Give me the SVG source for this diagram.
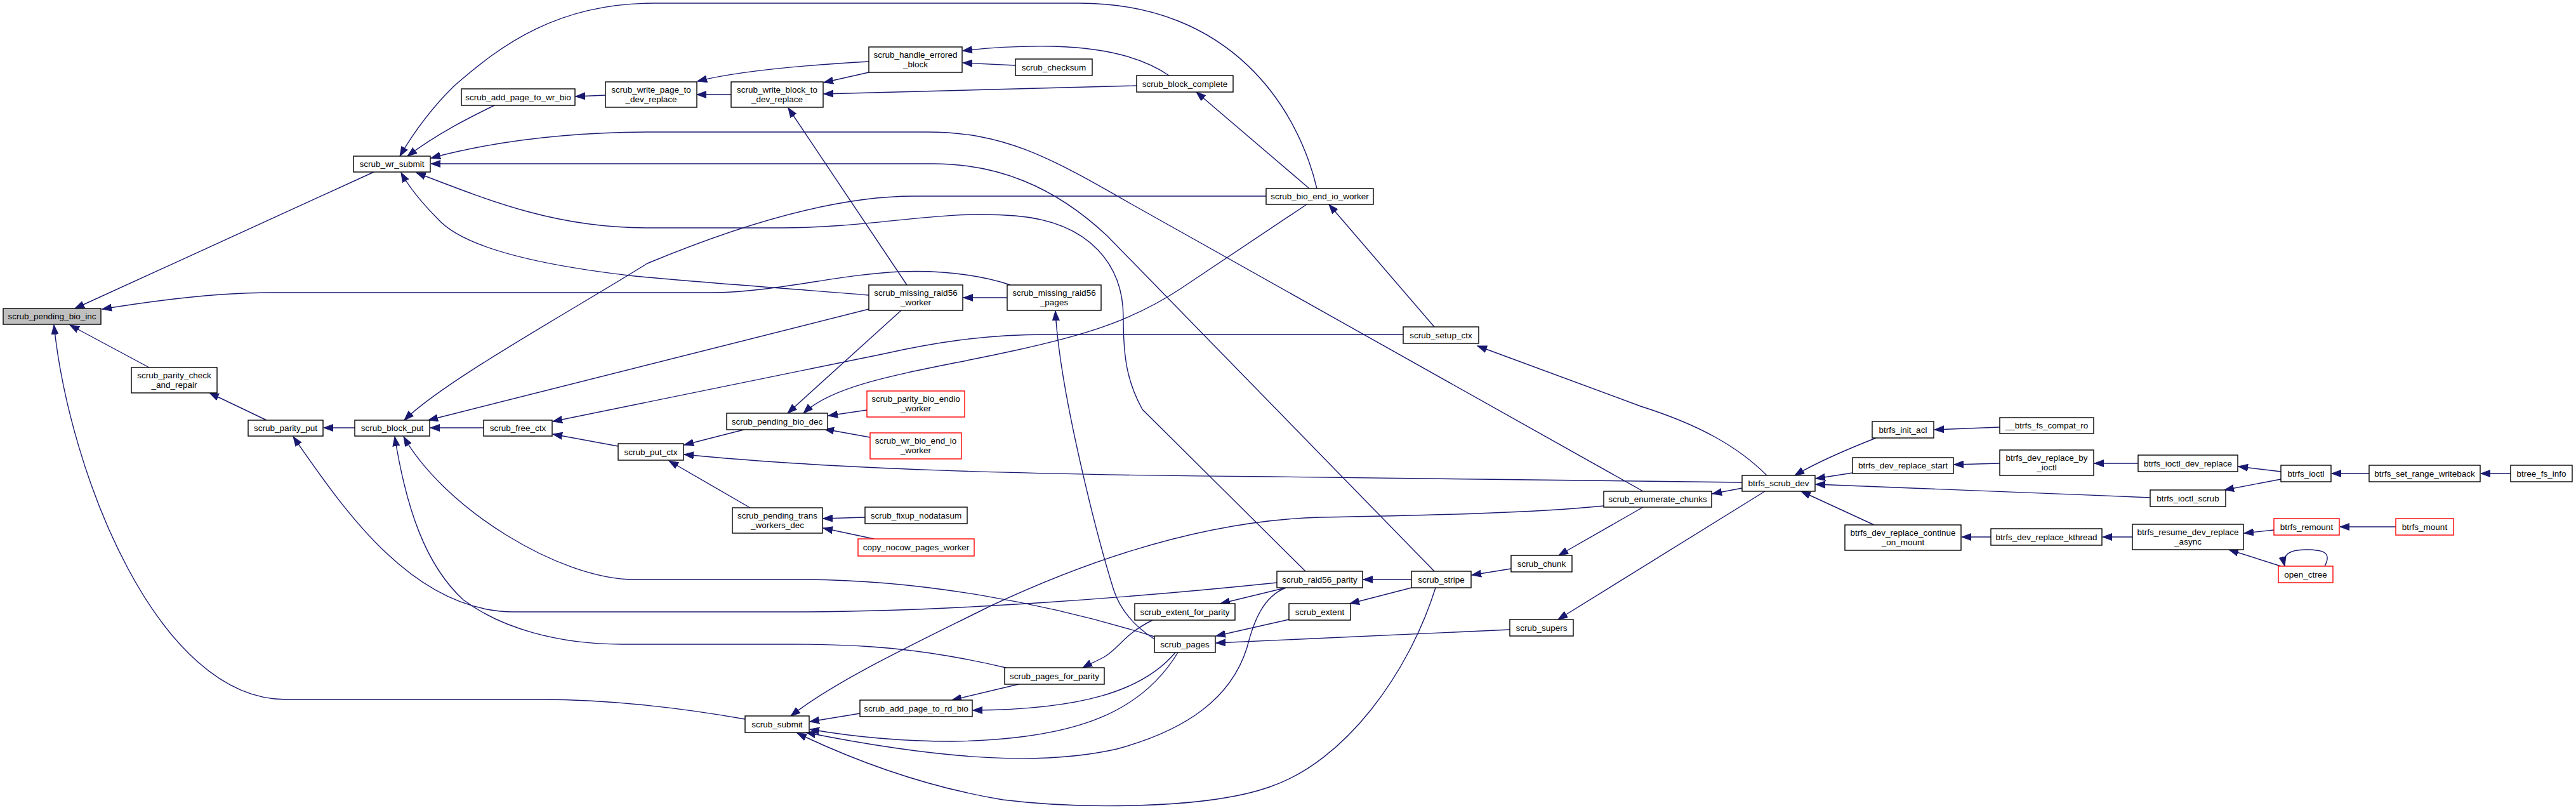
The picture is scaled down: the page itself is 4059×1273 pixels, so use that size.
<svg xmlns="http://www.w3.org/2000/svg" width="4059" height="1273" viewBox="0 0 4059 1273">
<style>
.n rect{fill:#fff;stroke:#000;stroke-width:1.4}
.n.r rect{stroke:#f00}
.n.root rect{fill:#bfbfbf}
.n text{font-family:"Liberation Sans",Arial,sans-serif;font-size:13.5px;fill:#000;text-anchor:middle}
#edges path{fill:none;stroke:#191970;stroke-width:1.4;marker-end:url(#ah)}
</style>
<defs>
<marker id="ah" markerUnits="userSpaceOnUse" markerWidth="16" markerHeight="12" refX="15" refY="6" orient="auto">
<path d="M0,0.5 L15,6 L0,11.5 z" fill="#191970" stroke="#191970" stroke-width="1"/>
</marker>
</defs>
<rect width="4059" height="1273" fill="#fff"/>
<g id="edges">
<path d="M589,271 L118,486"/>
<path d="M1592,449 C1560,438 1500,425 1420,428 C1320,432 1220,461 1120,461 L430,461 C340,461 240,474 161,487"/>
<path d="M235,579 L110,512"/>
<path d="M1174,1133 C1100,1120 980,1102 850,1102 L450,1102 C250,1102 110,750 85,512"/>
<path d="M2075,297 C2045,170 1940,5 1700,5 L1030,5 C880,5 790,70 716,135 C680,170 650,212 630,246"/>
<path d="M779,166 C740,185 690,210 642,246"/>
<path d="M2589,774 L1780,320 C1650,245 1580,208 1460,208 L1030,208 C900,208 780,222 679,249"/>
<path d="M2260,900 L1745,372 C1660,292 1570,258 1470,258 L679,258"/>
<path d="M2057,900 L1800,645 C1775,600 1770,560 1770,500 C1770,420 1720,350 1600,340 C1480,330 1380,359 1230,359 L1020,359 C880,359 780,320 656,272"/>
<path d="M1369,465 C1250,455 1100,445 1000,435 C850,418 730,390 690,345 C660,315 642,290 632,272"/>
<path d="M1995,309 L1440,309 C1300,309 1140,365 1020,415 C900,490 700,600 637,662"/>
<path d="M1369,487 L675,662"/>
<path d="M2211,527 L1650,527 C1550,527 1470,540 1390,558 L871,664"/>
<path d="M2059,322 L1860,455 C1780,508 1700,530 1600,552 C1450,585 1320,600 1266,651"/>
<path d="M1420,489 L1241,651"/>
<path d="M1429,449 L1242,170"/>
<path d="M1152,149 L1098,149"/>
<path d="M954,150 L907,152"/>
<path d="M1369,97 C1280,102 1170,110 1099,128"/>
<path d="M1369,114 L1298,130"/>
<path d="M1791,135 L1298,148"/>
<path d="M1842,119 C1800,90 1740,75 1660,73 C1600,72 1550,76 1517,80"/>
<path d="M1600,103 L1517,99"/>
<path d="M2063,297 L1885,145"/>
<path d="M1587,469 L1518,469"/>
<path d="M2260,515 L2094,322"/>
<path d="M2784,749 C2740,705 2680,670 2585,640 L2328,545"/>
<path d="M1172,677 L1078,701"/>
<path d="M2745,760 L2000,751 C1600,748 1300,738 1078,716"/>
<path d="M1182,800 L1054,726"/>
<path d="M974,703 L871,684"/>
<path d="M762,674 L678,674"/>
<path d="M559,674 L510,674"/>
<path d="M420,662 L330,619"/>
<path d="M1366,646 L1305,655"/>
<path d="M1371,689 L1299,676"/>
<path d="M1363,815 L1297,817"/>
<path d="M1377,849 L1297,832"/>
<path d="M2012,918 C1800,940 1500,964 1250,964 L810,964 C650,964 540,800 462,688"/>
<path d="M1585,1052 C1450,1020 1350,1015 1250,1015 L980,1015 C880,1015 790,990 730,945 C670,890 640,800 622,688"/>
<path d="M1819,1003 C1650,950 1450,913 1260,913 L1000,913 C880,913 700,800 636,688"/>
<path d="M1819,1007 C1785,985 1765,960 1755,930 C1730,850 1670,620 1663,490"/>
<path d="M2527,797 C2420,808 2250,812 2080,815 C1900,820 1720,880 1560,955 C1450,1010 1320,1070 1246,1128"/>
<path d="M2026,926 C1990,940 1975,980 1965,1020 C1940,1100 1870,1150 1760,1180 C1650,1205 1500,1200 1270,1154"/>
<path d="M2262,926 C2220,1060 2120,1200 2000,1240 C1900,1275 1700,1275 1580,1260 C1460,1240 1350,1200 1256,1155"/>
<path d="M1355,1124 L1276,1137"/>
<path d="M1605,1078 L1500,1103"/>
<path d="M1852,1028 C1800,1090 1700,1118 1533,1119"/>
<path d="M1856,1028 C1800,1120 1700,1165 1500,1168 C1420,1168 1340,1160 1276,1149"/>
<path d="M1816,977 C1770,1000 1765,1020 1740,1035 C1725,1043 1715,1047 1706,1052"/>
<path d="M2026,926 L1923,951"/>
<path d="M2031,976 L1916,1002"/>
<path d="M2379,992 L1916,1013"/>
<path d="M2224,913 L2148,913"/>
<path d="M2224,926 L2127,951"/>
<path d="M2381,896 L2319,906"/>
<path d="M2589,799 L2456,875"/>
<path d="M2745,769 L2698,778"/>
<path d="M2781,774 L2455,976"/>
<path d="M2956,690 C2900,712 2860,730 2828,749"/>
<path d="M2919,745 L2861,754"/>
<path d="M3388,784 C3200,776 3000,768 2861,763"/>
<path d="M2953,827 L2838,774"/>
<path d="M3151,673 L3048,677"/>
<path d="M3151,730 L3079,732"/>
<path d="M3137,846 L3091,846"/>
<path d="M3369,730 L3300,730"/>
<path d="M3594,743 L3527,735"/>
<path d="M3594,755 L3505,772"/>
<path d="M3733,746 L3674,746"/>
<path d="M3956,746 L3909,746"/>
<path d="M3360,846 L3313,846"/>
<path d="M3583,835 L3536,840"/>
<path d="M3594,892 L3512,866"/>
<path d="M3775,830 L3687,830"/>
<path d="M3663,892 C3675,870 3660,866 3634,866 C3605,866 3596,875 3600,892"/>
</g>
<g id="n1" class="n root"><rect x="5" y="486" width="154" height="25"/><text x="82" y="503">scrub_pending_bio_inc</text></g>
<g id="n2" class="n"><rect x="557" y="246" width="121" height="25"/><text x="617.5" y="263">scrub_wr_submit</text></g>
<g id="n3" class="n"><rect x="727" y="140" width="179" height="26"/><text x="816.5" y="157.5">scrub_add_page_to_wr_bio</text></g>
<g id="n4" class="n"><rect x="207" y="579" width="135" height="40"/><text x="274.5" y="596">scrub_parity_check</text><text x="274.5" y="610.5">_and_repair</text></g>
<g id="n5" class="n"><rect x="391" y="662" width="118" height="25"/><text x="450" y="679">scrub_parity_put</text></g>
<g id="n6" class="n"><rect x="559" y="662" width="118" height="25"/><text x="618" y="679">scrub_block_put</text></g>
<g id="n7" class="n"><rect x="762" y="662" width="108" height="25"/><text x="816" y="679">scrub_free_ctx</text></g>
<g id="n8" class="n"><rect x="974" y="699" width="103" height="26"/><text x="1025.5" y="716.5">scrub_put_ctx</text></g>
<g id="n9" class="n"><rect x="954" y="129" width="144" height="40"/><text x="1026" y="146">scrub_write_page_to</text><text x="1026" y="160.5">_dev_replace</text></g>
<g id="n10" class="n"><rect x="1152" y="129" width="145" height="40"/><text x="1224.5" y="146">scrub_write_block_to</text><text x="1224.5" y="160.5">_dev_replace</text></g>
<g id="n11" class="n"><rect x="1369" y="74" width="147" height="40"/><text x="1442.5" y="91">scrub_handle_errored</text><text x="1442.5" y="105.5">_block</text></g>
<g id="n12" class="n"><rect x="1600" y="93" width="121" height="26"/><text x="1660.5" y="110.5">scrub_checksum</text></g>
<g id="n13" class="n"><rect x="1791" y="119" width="152" height="26"/><text x="1867" y="136.5">scrub_block_complete</text></g>
<g id="n14" class="n"><rect x="1369" y="449" width="148" height="40"/><text x="1443" y="466">scrub_missing_raid56</text><text x="1443" y="480.5">_worker</text></g>
<g id="n15" class="n"><rect x="1587" y="449" width="148" height="40"/><text x="1661" y="466">scrub_missing_raid56</text><text x="1661" y="480.5">_pages</text></g>
<g id="n16" class="n"><rect x="1995" y="297" width="169" height="25"/><text x="2079.5" y="314">scrub_bio_end_io_worker</text></g>
<g id="n17" class="n"><rect x="2211" y="515" width="119" height="26"/><text x="2270.5" y="532.5">scrub_setup_ctx</text></g>
<g id="n18" class="n r"><rect x="1366" y="616" width="154" height="41"/><text x="1443" y="633">scrub_parity_bio_endio</text><text x="1443" y="647.5">_worker</text></g>
<g id="n19" class="n"><rect x="1145" y="651" width="159" height="26"/><text x="1224.5" y="668.5">scrub_pending_bio_dec</text></g>
<g id="n20" class="n r"><rect x="1371" y="682" width="144" height="41"/><text x="1443" y="699">scrub_wr_bio_end_io</text><text x="1443" y="713.5">_worker</text></g>
<g id="n21" class="n"><rect x="1154" y="800" width="142" height="40"/><text x="1225" y="817">scrub_pending_trans</text><text x="1225" y="831.5">_workers_dec</text></g>
<g id="n22" class="n"><rect x="1363" y="799" width="161" height="26"/><text x="1443.5" y="816.5">scrub_fixup_nodatasum</text></g>
<g id="n23" class="n r"><rect x="1352" y="849" width="183" height="27"/><text x="1443.5" y="867">copy_nocow_pages_worker</text></g>
<g id="n24" class="n"><rect x="1788" y="951" width="158" height="26"/><text x="1867" y="968.5">scrub_extent_for_parity</text></g>
<g id="n25" class="n"><rect x="1819" y="1002" width="96" height="26"/><text x="1867" y="1019.5">scrub_pages</text></g>
<g id="n26" class="n"><rect x="1583" y="1052" width="157" height="26"/><text x="1661.5" y="1069.5">scrub_pages_for_parity</text></g>
<g id="n27" class="n"><rect x="1355" y="1103" width="177" height="26"/><text x="1443.5" y="1120.5">scrub_add_page_to_rd_bio</text></g>
<g id="n28" class="n"><rect x="1174" y="1128" width="101" height="26"/><text x="1224.5" y="1145.5">scrub_submit</text></g>
<g id="n29" class="n"><rect x="2012" y="900" width="135" height="26"/><text x="2079.5" y="917.5">scrub_raid56_parity</text></g>
<g id="n30" class="n"><rect x="2224" y="900" width="94" height="26"/><text x="2271" y="917.5">scrub_stripe</text></g>
<g id="n31" class="n"><rect x="2031" y="951" width="97" height="26"/><text x="2079.5" y="968.5">scrub_extent</text></g>
<g id="n32" class="n"><rect x="2381" y="875" width="96" height="26"/><text x="2429" y="892.5">scrub_chunk</text></g>
<g id="n33" class="n"><rect x="2379" y="976" width="100" height="26"/><text x="2429" y="993.5">scrub_supers</text></g>
<g id="n34" class="n"><rect x="2527" y="774" width="170" height="25"/><text x="2612" y="791">scrub_enumerate_chunks</text></g>
<g id="n35" class="n"><rect x="2745" y="749" width="115" height="25"/><text x="2802.5" y="766">btrfs_scrub_dev</text></g>
<g id="n36" class="n"><rect x="2950" y="664" width="97" height="26"/><text x="2998.5" y="681.5">btrfs_init_acl</text></g>
<g id="n37" class="n"><rect x="2919" y="721" width="159" height="25"/><text x="2998.5" y="738">btrfs_dev_replace_start</text></g>
<g id="n38" class="n"><rect x="2907" y="827" width="183" height="40"/><text x="2998.5" y="844">btrfs_dev_replace_continue</text><text x="2998.5" y="858.5">_on_mount</text></g>
<g id="n39" class="n"><rect x="3151" y="658" width="148" height="25"/><text x="3225" y="675">__btrfs_fs_compat_ro</text></g>
<g id="n40" class="n"><rect x="3151" y="709" width="148" height="40"/><text x="3225" y="726">btrfs_dev_replace_by</text><text x="3225" y="740.5">_ioctl</text></g>
<g id="n41" class="n"><rect x="3137" y="833" width="175" height="26"/><text x="3224.5" y="850.5">btrfs_dev_replace_kthread</text></g>
<g id="n42" class="n"><rect x="3369" y="717" width="157" height="26"/><text x="3447.5" y="734.5">btrfs_ioctl_dev_replace</text></g>
<g id="n43" class="n"><rect x="3388" y="772" width="119" height="26"/><text x="3447.5" y="789.5">btrfs_ioctl_scrub</text></g>
<g id="n44" class="n"><rect x="3360" y="826" width="175" height="40"/><text x="3447.5" y="843">btrfs_resume_dev_replace</text><text x="3447.5" y="857.5">_async</text></g>
<g id="n45" class="n"><rect x="3594" y="733" width="79" height="26"/><text x="3633.5" y="750.5">btrfs_ioctl</text></g>
<g id="n46" class="n"><rect x="3733" y="733" width="175" height="26"/><text x="3820.5" y="750.5">btrfs_set_range_writeback</text></g>
<g id="n47" class="n"><rect x="3956" y="733" width="97" height="26"/><text x="4004.5" y="750.5">btree_fs_info</text></g>
<g id="n48" class="n r"><rect x="3583" y="817" width="103" height="26"/><text x="3634.5" y="834.5">btrfs_remount</text></g>
<g id="n49" class="n r"><rect x="3775" y="817" width="91" height="26"/><text x="3820.5" y="834.5">btrfs_mount</text></g>
<g id="n50" class="n r"><rect x="3590" y="892" width="86" height="26"/><text x="3633" y="909.5">open_ctree</text></g>
</svg>
